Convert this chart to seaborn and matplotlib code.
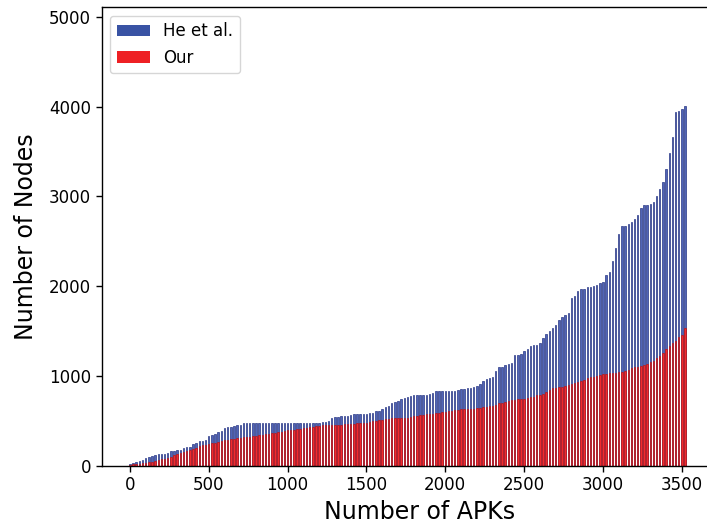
import numpy as np
import pandas as pd
import matplotlib
matplotlib.use("Agg")
import matplotlib.pyplot as plt
import seaborn as sns

# APK index positions (one bar every 20 APKs)
apk_index = list(range(0, 3521, 20))

he_et_al = [
    20, 27, 45, 56, 65, 85, 100, 110, 120, 127,
    128, 130, 138, 160, 167, 170, 175, 200, 208, 210,
    245, 255, 279, 280, 282, 330, 342, 350, 375, 390,
    415, 428, 430, 440, 455, 458, 470, 472, 472, 472,
    472, 472, 472, 472, 472, 472, 472, 472, 472, 472,
    472, 472, 472, 472, 472, 472, 472, 472, 472, 472,
    480, 483, 485, 495, 530, 540, 545, 555, 556, 558,
    560, 578, 580, 580, 580, 580, 582, 585, 605, 612,
    630, 650, 670, 695, 712, 725, 740, 750, 765, 775,
    785, 788, 788, 788, 790, 800, 815, 828, 830, 832,
    832, 832, 833, 835, 840, 855, 858, 860, 865, 875,
    893, 915, 940, 970, 982, 985, 1050, 1100, 1105, 1120,
    1135, 1140, 1230, 1235, 1248, 1280, 1300, 1328, 1340, 1345,
    1370, 1420, 1470, 1500, 1535, 1565, 1620, 1655, 1680, 1700,
    1870, 1892, 1943, 1968, 1970, 1987, 1995, 2002, 2017, 2040,
    2043, 2130, 2160, 2280, 2420, 2580, 2670, 2674, 2690, 2720,
    2750, 2790, 2870, 2905, 2908, 2915, 2940, 3000, 3080, 3160,
    3300, 3480, 3660, 3940, 3952, 3972, 4011,
]

ours = [
    10, 15, 18, 22, 27, 32, 38, 45, 55, 65,
    71, 72, 80, 100, 115, 130, 140, 150, 164, 175,
    190, 200, 215, 227, 235, 240, 250, 256, 265, 275,
    282, 290, 295, 300, 305, 312, 316, 320, 323, 330,
    335, 340, 345, 350, 358, 362, 368, 375, 380, 388,
    395, 400, 403, 406, 410, 418, 425, 428, 435, 440,
    446, 448, 450, 452, 453, 455, 457, 458, 460, 462,
    465, 466, 470, 473, 478, 481, 490, 498, 503, 508,
    512, 516, 520, 526, 529, 530, 531, 532, 536, 542,
    548, 555, 562, 567, 572, 576, 580, 585, 590, 595,
    600, 606, 612, 618, 625, 628, 628, 629, 630, 632,
    640, 647, 652, 658, 663, 666, 680, 695, 703, 710,
    718, 730, 735, 740, 743, 748, 753, 760, 768, 782,
    790, 799, 825, 845, 860, 866, 873, 880, 890, 903,
    912, 925, 935, 948, 958, 972, 985, 993, 1000, 1010,
    1021, 1025, 1029, 1029, 1030, 1040, 1048, 1055, 1065, 1085,
    1095, 1103, 1110, 1120, 1138, 1150, 1168, 1195, 1220, 1260,
    1300, 1330, 1370, 1385, 1430, 1460, 1531,
]

n = min(len(apk_index), len(he_et_al), len(ours))
df = pd.DataFrame({"apk": apk_index[:n], "he": he_et_al[:n], "our": ours[:n]})

sns.set_style("ticks")
plt.rcParams["font.family"] = ["DejaVu Sans"]
plt.rcParams["text.color"] = "black"
plt.rcParams["axes.labelcolor"] = "black"
plt.rcParams["xtick.color"] = "black"
plt.rcParams["ytick.color"] = "black"

fig = plt.figure(figsize=(7.07, 5.24), dpi=100)
ax = fig.add_axes([0.1438, 0.1113, 0.90, 0.8744])

sns.barplot(data=df, x="apk", y="he", native_scale=True, width=0.45,
            color="#5064b6", edgecolor="#283685", linewidth=0.5,
            saturation=1, label="He et al.", ax=ax, errorbar=None)
sns.barplot(data=df, x="apk", y="our", native_scale=True, width=0.45,
            color="#f22a2c", edgecolor="#b8161a", linewidth=0.5,
            saturation=1, label="Our", ax=ax, errorbar=None)

ax.set_xlim(-179, 3856)
ax.set_ylim(0, 5105)
ax.set_xticks([0, 500, 1000, 1500, 2000, 2500, 3000, 3500])
ax.set_yticks([0, 1000, 2000, 3000, 4000, 5000])
ax.tick_params(labelsize=12, length=4, width=1)
ax.set_xlabel("Number of APKs", fontsize=17)
ax.set_ylabel("Number of Nodes", fontsize=17, labelpad=8)
for s in ax.spines.values():
    s.set_visible(True)
    s.set_color("black")
    s.set_linewidth(1)
ax.spines["right"].set_visible(False)

leg = ax.legend(loc="upper left", fontsize=12, frameon=True)
for h in leg.legend_handles:
    h.set_edgecolor("none")
leg.legend_handles[0].set_facecolor("#3953a4")
leg.legend_handles[1].set_facecolor("#ee2024")

fig.savefig("out.png", dpi=100)
